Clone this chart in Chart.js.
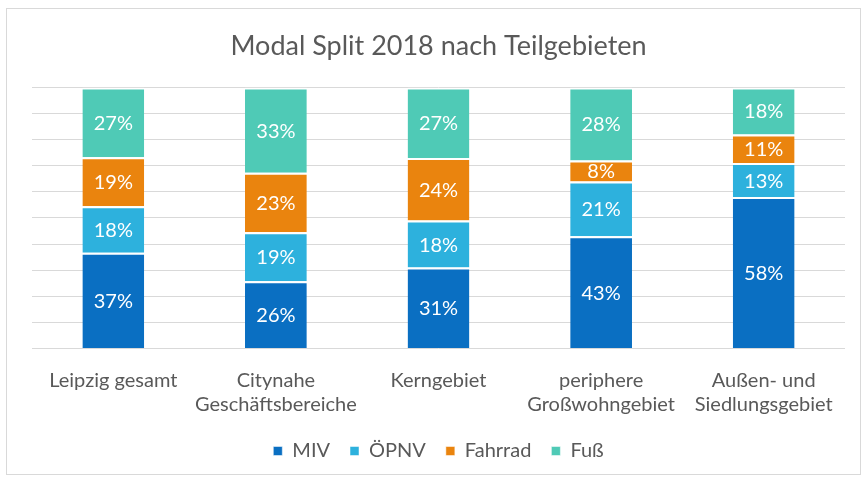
<!DOCTYPE html>
<html>
<head>
<meta charset="utf-8">
<script src="https://cdn.jsdelivr.net/npm/chart.js@4/dist/chart.umd.min.js"></script>
<style>
  html, body { margin: 0; padding: 0; background: #fff; }
  #wrap { position: absolute; left: 0; top: 0; width: 866px; height: 483px; }
</style>
</head>
<body>
<div id="wrap"><canvas id="c" width="866" height="483"></canvas></div>
<script>
const categories = [
  ["Leipzig gesamt"],
  ["Citynahe", "Geschäftsbereiche"],
  ["Kerngebiet"],
  ["periphere", "Großwohngebiet"],
  ["Außen- und", "Siedlungsgebiet"]
];
const seriesNames = ["MIV", "ÖPNV", "Fahrrad", "Fuß"];
const miv     = [37, 26, 31, 43, 58];
const oepnv   = [18, 19, 18, 21, 13];
const fahrrad = [19, 23, 24, 8, 11];
const fuss    = [27, 33, 27, 28, 18];
const colors = ["#0A6FC2", "#2DB1DD", "#EA840E", "#4FCAB6"];

const raw = [miv, oepnv, fahrrad, fuss];
const totals = categories.map((_, i) => raw.reduce((s, arr) => s + arr[i], 0));

const datasets = raw.map((arr, k) => ({
  label: seriesNames[k],
  data: arr.map((v, i) => v / totals[i] * 100),
  rawValues: arr,
  backgroundColor: colors[k],
  borderColor: "#ffffff",
  borderWidth: { top: 2, bottom: 0, left: 0, right: 0 },
  borderSkipped: false,
  barPercentage: 0.38,
  categoryPercentage: 1.0
}));

const frame = {
  id: "frame",
  beforeDraw(chart) {
    const ctx = chart.ctx;
    ctx.save();
    ctx.fillStyle = "#ffffff";
    ctx.fillRect(0, 0, chart.width, chart.height);
    ctx.strokeStyle = "#d9d9d9";
    ctx.lineWidth = 1;
    ctx.strokeRect(6.5, 8.5, 854, 466);
    ctx.restore();
  }
};

const labelsPlugin = {
  id: "segLabels",
  afterDatasetsDraw(chart) {
    const ctx = chart.ctx;
    ctx.save();
    ctx.fillStyle = "#ffffff";
    ctx.font = "20px Lato";
    ctx.textAlign = "center";
    ctx.textBaseline = "middle";
    chart.data.datasets.forEach((ds, di) => {
      const meta = chart.getDatasetMeta(di);
      meta.data.forEach((bar, i) => {
        const y = (bar.y + bar.base) / 2;
        ctx.fillText(ds.rawValues[i] + "%", bar.x, y + 1);
      });
    });
    ctx.restore();
  }
};

new Chart(document.getElementById("c"), {
  type: "bar",
  data: { labels: categories, datasets },
  plugins: [frame, labelsPlugin],
  options: {
    responsive: false,
    animation: false,
    layout: { padding: { left: 32, right: 21, top: 30, bottom: 12 } },
    plugins: {
      title: {
        display: true,
        text: "Modal Split 2018 nach Teilgebieten",
        color: "#595959",
        font: { family: "Lato", size: 27, weight: "normal" },
        padding: { top: 0, bottom: 25 }
      },
      legend: {
        position: "bottom",
        labels: {
          color: "#595959",
          font: { family: "Lato", size: 20 },
          boxWidth: 9,
          boxHeight: 9,
          padding: 20
        }
      },
      tooltip: { enabled: false }
    },
    scales: {
      x: {
        stacked: true,
        grid: { display: false },
        border: { display: false },
        afterFit(scale) { scale.height -= 7.5; },
        ticks: {
          color: "#595959",
          font: { family: "Lato", size: 20, lineHeight: 1.2 },
          padding: 12,
          maxRotation: 0,
          autoSkip: false
        }
      },
      y: {
        stacked: true,
        min: 0,
        max: 100,
        ticks: { display: false, stepSize: 10 },
        grid: { color: "#d9d9d9", drawTicks: false },
        border: { display: false }
      }
    }
  }
});
</script>
</body>
</html>
